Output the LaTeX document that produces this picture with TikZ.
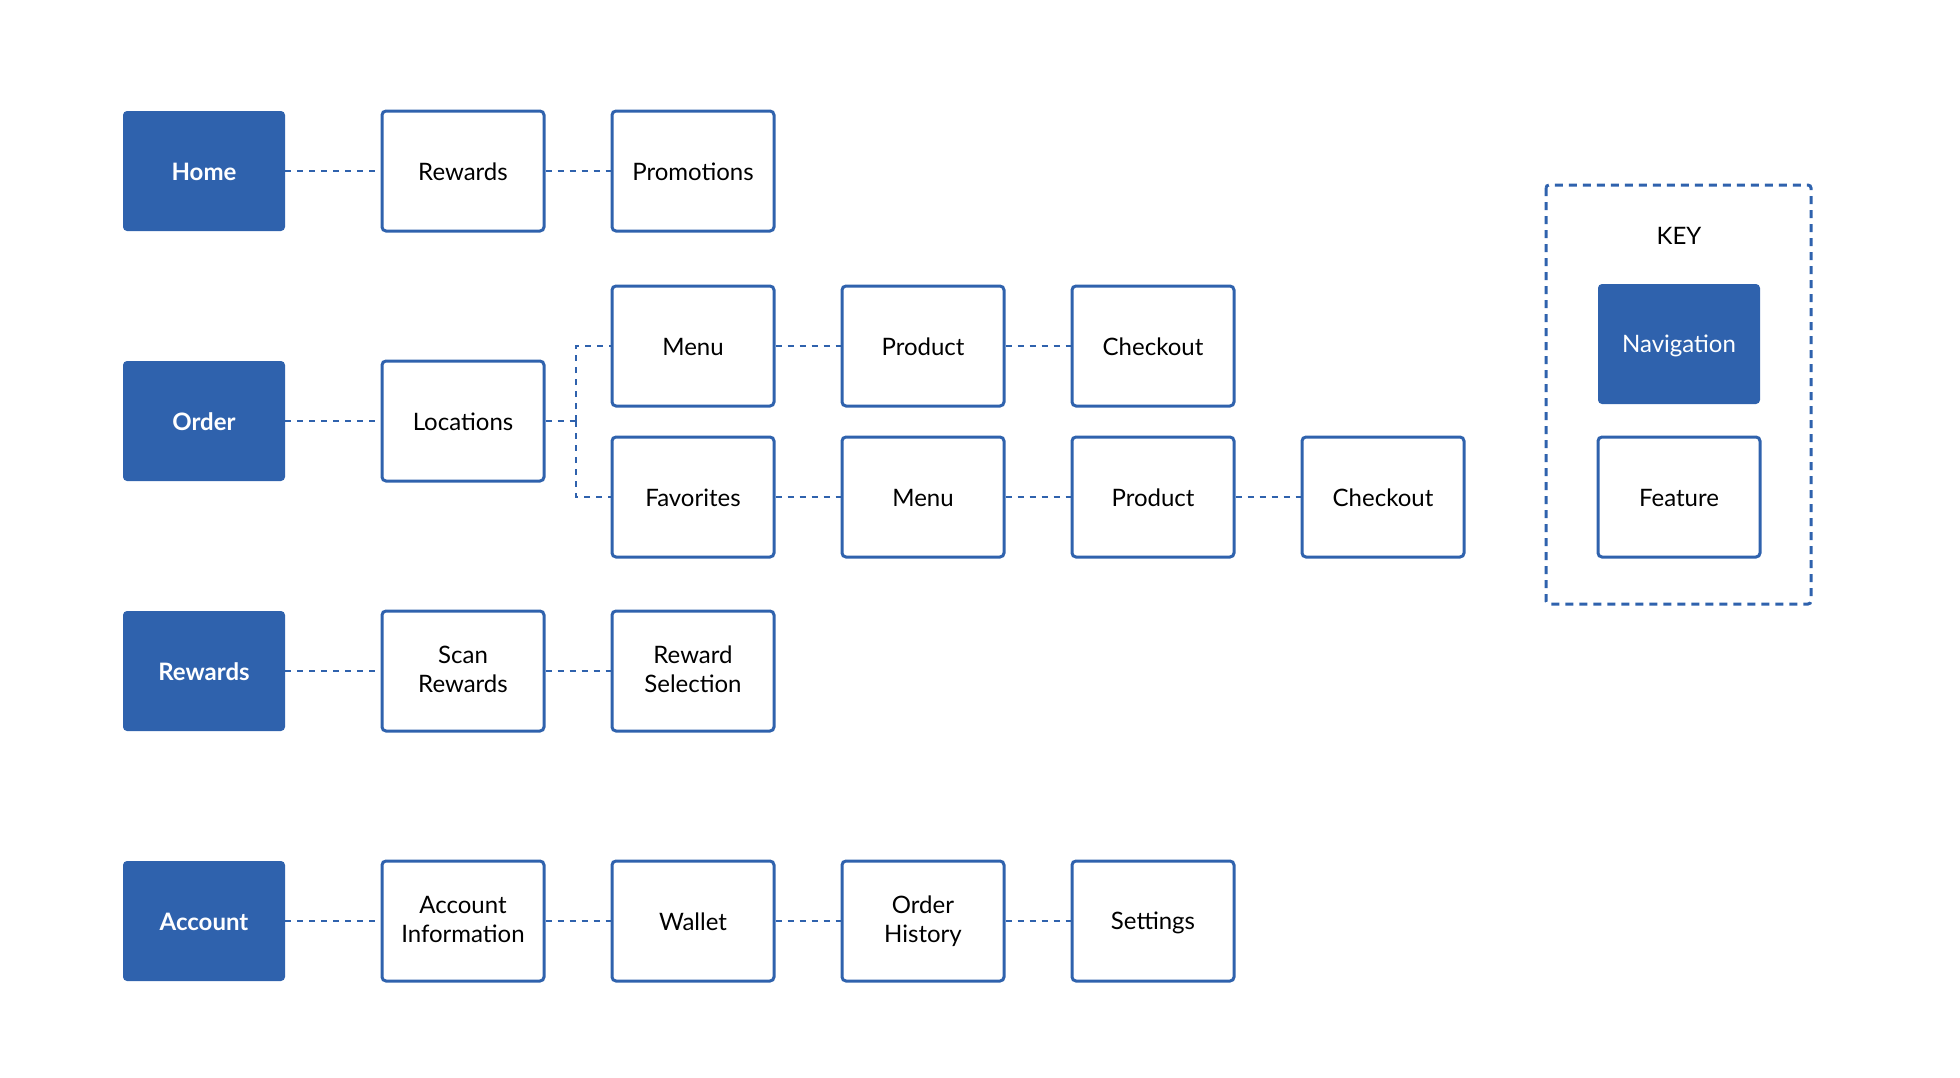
\documentclass[tikz,border=0pt]{standalone}
\usepackage{fontspec}
\setmainfont{Lato}
\usepackage{xcolor}
\usepackage{tikz}
\usetikzlibrary{calc,positioning}
\definecolor{navblue}{RGB}{47,98,173}
\newcommand{\boxstrut}{\rule[-1.64pt]{0pt}{12.4pt}}
\tikzset{
  treenode/.style = {align=center, inner sep=0pt, text centered, minimum width=81pt, minimum height=60pt, rounded corners=2pt, font=\fontsize{12}{14.4}\selectfont, execute at begin node=\boxstrut, execute at end node=\boxstrut},
  nav_n/.style = {treenode, white, fill=navblue, font=\fontsize{12}{14.4}\selectfont\bfseries},
  feat_n/.style = {treenode, black, draw=navblue, fill=white, line width=1.5pt},
  key_n/.style = {treenode, fill=none, draw=none, minimum width=0pt, minimum height=0pt},
  link/.style = {draw=navblue, line width=1pt, dash pattern=on 3pt off 3pt}
}
\begin{document}
\begin{tikzpicture}[x=0.5pt, y=-0.5pt]
  \useasboundingbox (0,0) rectangle (1960,1077);
  % home row
  \node[nav_n] (home) at (204,171) {Home};
  \node[feat_n] (homeRew) at (463,171) {Rewards};
  \node[feat_n] (promo) at (693,171) {Promotions};
  % order rows
  \node[nav_n] (order) at (204,421) {Order};
  \node[feat_n] (loc) at (463,421) {Locations};
  \node[feat_n] (menuA) at (693,346) {Menu};
  \node[feat_n] (prodA) at (923,346) {Product};
  \node[feat_n] (checkA) at (1153,346) {Checkout};
  \node[feat_n] (fav) at (693,497) {Favorites};
  \node[feat_n] (menuB) at (923,497) {Menu};
  \node[feat_n] (prodB) at (1153,497) {Product};
  \node[feat_n] (checkB) at (1383,497) {Checkout};
  \coordinate (split) at (576,421);
  % rewards row
  \node[nav_n] (rew) at (204,671) {Rewards};
  \node[feat_n] (scan) at (463,671) {Scan\\Rewards};
  \node[feat_n] (sel) at (693,671) {Reward\\Selection};
  % account row
  \node[nav_n] (acc) at (204,921) {Account};
  \node[feat_n] (info) at (463,921) {Account\\Information};
  \node[feat_n] (wallet) at (693,921) {Wallet};
  \node[feat_n] (hist) at (923,921) {Order\\History};
  \node[feat_n] (set) at (1153,921) {Settings};
  % key
  \draw[draw=navblue, line width=1.5pt, dash pattern=on 4pt off 3pt, rounded corners=1.5pt] (1546,185) rectangle (1811,604);
  \node[key_n] (key) at (1679,235) {KEY};
  \node[nav_n, font=\fontsize{12}{14.4}\selectfont] (keyNav) at (1679,344) {Navigation};
  \node[feat_n] (keyFeat) at (1679,497) {Feature};
  % connectors
  \draw[link] (home) -- (homeRew);
  \draw[link] (homeRew) -- (promo);
  \draw[link] (order) -- (loc);
  \draw[link] (loc) -- (split);
  \draw[link] (split) |- (menuA);
  \draw[link] (split) |- (fav);
  \draw[link] (menuA) -- (prodA);
  \draw[link] (prodA) -- (checkA);
  \draw[link] (fav) -- (menuB);
  \draw[link] (menuB) -- (prodB);
  \draw[link] (prodB) -- (checkB);
  \draw[link] (rew) -- (scan);
  \draw[link] (scan) -- (sel);
  \draw[link] (acc) -- (info);
  \draw[link] (info) -- (wallet);
  \draw[link] (wallet) -- (hist);
  \draw[link] (hist) -- (set);
\end{tikzpicture}
\end{document}
